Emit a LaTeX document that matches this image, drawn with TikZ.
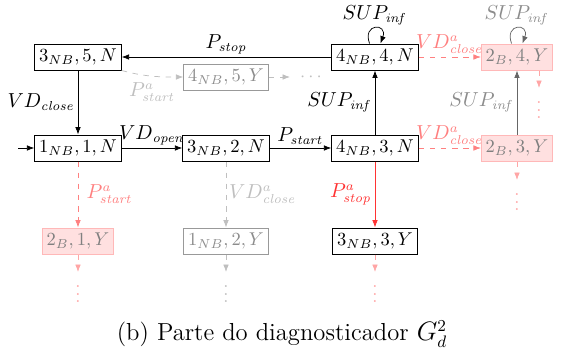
\documentclass[tikz,border=0pt]{standalone}
\usepackage{amsmath}
\usetikzlibrary{positioning, arrows.meta}

\begin{document}
\begin{tikzpicture}[x=0.54pt, y=-0.54pt,
  state/.style={draw, rectangle, inner xsep=2.4pt, inner ysep=2.7pt, fill=white},
  ghost/.style={state, draw=black!40, text=black!45},
  fault/.style={state, draw=red!28, fill=red!12, text=black!50},
  lbl/.style={inner sep=1.5pt, font=\fontsize{10.6}{12}\selectfont},
  arr/.style={-{Latex[length=4pt,width=3pt]}},
  pinkarr/.style={arr, dashed, red!50},
  greyarr/.style={arr, dashed, black!25}]
\useasboundingbox (0,0) rectangle (564,356);

% Draw states
\node[state] (n35) at (78,57) {$3_{NB}, 5, N$};
\node[ghost] (n45y) at (226,77) {$4_{NB}, 5, Y$};
\node[state] (n44) at (375,57) {$4_{NB}, 4, N$};
\node[fault] (b24) at (517,57) {$2_{B}, 4, Y$};
\node[state] (n11) at (78,148) {$1_{NB}, 1, N$};
\node[state] (n32) at (226,148) {$3_{NB}, 2, N$};
\node[state] (n43) at (375,148) {$4_{NB}, 3, N$};
\node[fault] (b23) at (517,148) {$2_{B}, 3, Y$};
\node[fault] (b21) at (78,241) {$2_{B}, 1, Y$};
\node[ghost] (n12y) at (226,241) {$1_{NB}, 2, Y$};
\node[state] (n33y) at (375,241) {$3_{NB}, 3, Y$};

% Draw observed transitions
\coordinate (init) at (18,148);
\draw[arr] (init) -- (n11);
\draw[arr] (n35) -- (n11) node[midway, left, lbl] (l1) {$VD_{\mathit{close}}$};
\draw[arr] (n11) -- (n32) node[midway, above, lbl] (l2) {$VD_{\mathit{open}}$};
\draw[arr] (n32) -- (n43) node[midway, above, lbl] (l3) {$P_{\mathit{start}}$};
\draw[arr] (n43) -- (n44) node[midway, left, lbl] (l4) {$SUP_{\mathit{inf}}$};
\draw[arr] (n44) -- (n35) node[midway, above, lbl] (l5) {$P_{\mathit{stop}}$};
\draw[arr] (n44.112) .. controls +(-110:22) and +(-70:22) .. (n44.68)
  node[midway, above, lbl] (l6) {$SUP_{\mathit{inf}}$};

% Draw grey part
\draw[greyarr] (n35.south east) to[out=-15, in=180]
  node[midway, below=2pt, lbl, black!25] (l7) {$P^{a}_{\mathit{start}}$} (n45y);
\coordinate (g1) at (290,77);
\draw[greyarr] (n45y) -- (g1);
\node[black!25, right=2pt of g1] (g1d) {$\cdots$};
\draw[greyarr] (n32) -- (n12y) node[midway, right, lbl, black!25] (l8) {$VD^{a}_{\mathit{close}}$};
\coordinate (g2) at (226,272);
\draw[greyarr] (n12y) -- (g2);
\node[black!25, below=-2pt of g2] (g2d) {$\vdots$};

% Draw fault transitions
\draw[pinkarr] (n44) -- (b24) node[midway, above, lbl, red!50] (l9) {$VD^{a}_{\mathit{close}}$};
\draw[pinkarr] (n43) -- (b23) node[midway, above, lbl, red!50] (l10) {$VD^{a}_{\mathit{close}}$};
\draw[arr, black!60] (b23) -- (b24) node[midway, left, lbl, black!45] (l11) {$SUP_{\mathit{inf}}$};
\draw[arr, black!60] (b24.112) .. controls +(-110:22) and +(-70:22) .. (b24.68)
  node[midway, above, lbl, black!45] (l12) {$SUP_{\mathit{inf}}$};
\draw[pinkarr] (n11) -- (b21) node[midway, right=3pt, lbl, red!50] (l13) {$P^{a}_{\mathit{start}}$};
\draw[arr, red!80] (n43) -- (n33y) node[midway, left, lbl, red!80] (l14) {$P^{a}_{\mathit{stop}}$};

% Draw continuations
\coordinate (c24) at (539,88);
\draw[pinkarr, red!35] (b24.south -| c24) -- (c24);
\node[red!35, below=-2pt of c24] (c24d) {$\vdots$};
\coordinate (c23) at (517,180);
\draw[pinkarr, red!35] (b23) -- (c23);
\node[red!35, below=-2pt of c23] (c23d) {$\vdots$};
\coordinate (c21) at (78,272);
\draw[pinkarr, red!35] (b21) -- (c21);
\node[red!35, below=-2pt of c21] (c21d) {$\vdots$};
\coordinate (c33) at (375,272);
\draw[pinkarr, red!35] (n33y) -- (c33);
\node[red!35, below=-2pt of c33] (c33d) {$\vdots$};

% Caption
\node[font=\fontsize{13.3}{16}\selectfont] (cap) at (282,334) {(b) Parte do diagnosticador $G_d^2$};
\end{tikzpicture}
\end{document}
